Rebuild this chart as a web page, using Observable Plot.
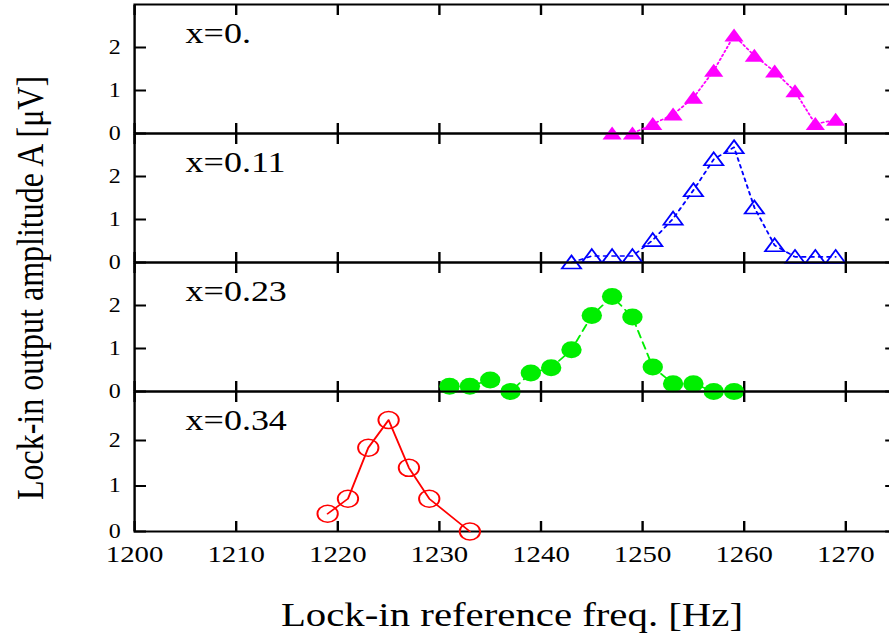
<!DOCTYPE html>
<html><head><meta charset="utf-8">
<script src="https://cdn.jsdelivr.net/npm/d3@7"></script>
<script src="https://cdn.jsdelivr.net/npm/@observablehq/plot@0.6"></script>
<style>
html,body{margin:0;padding:0;overflow:hidden;background:#fff;width:889px;height:637px;}
#stage{position:absolute;left:0;top:0;width:750px;height:637px;transform-origin:0 0;transform:scaleX(1.2);}
.panel{position:absolute;left:0;}
.title{position:absolute;font-family:"Liberation Serif",serif;color:#000;white-space:nowrap;line-height:1;}
</style></head><body><div id="stage"></div>
<script>
// ---- data ----
const xTicks = [1200, 1210, 1220, 1230, 1240, 1250, 1260, 1270];
const yTicks = [0, 1, 2];
const panelLabels = ["x=0.", "x=0.11", "x=0.23", "x=0.34"];

const freqX000 = [1247, 1249, 1251, 1253, 1255, 1257, 1259, 1261, 1263, 1265, 1267, 1269];
const ampX000  = [0.0, 0.0, 0.22, 0.44, 0.83, 1.46, 2.28, 1.81, 1.44, 0.98, 0.22, 0.32];

const freqX011 = [1243, 1245, 1247, 1249, 1251, 1253, 1255, 1257, 1259, 1261, 1263, 1265, 1267, 1269];
const ampX011  = [0.0, 0.15, 0.15, 0.15, 0.52, 1.02, 1.68, 2.4, 2.68, 1.28, 0.4, 0.13, 0.13, 0.13];

const freqX023 = [1231, 1233, 1235, 1237, 1239, 1241, 1243, 1245, 1247, 1249, 1251, 1253, 1255, 1257, 1259];
const ampX023  = [0.12, 0.12, 0.27, 0.0, 0.43, 0.55, 0.97, 1.77, 2.21, 1.73, 0.57, 0.18, 0.18, 0.0, 0.0];

const freqX034 = [1219, 1221, 1223, 1225, 1227, 1229, 1233];
const ampX034  = [0.39, 0.72, 1.84, 2.45, 1.4, 0.72, 0.0];

// ---- layout ----
const S = 1.2;          // horizontal stretch of the reference
const W = 750;
const leftEdge = 134 / S, rightEdge = 896 / S;
const bounds = [4, 133, 262, 391, 531];

const triangle = {draw(ctx) { ctx.moveTo(0, -7); ctx.lineTo(8, 6); ctx.lineTo(-8, 6); ctx.closePath(); }};

const panels = [
  {label: panelLabels[0], f: freqX000, a: ampX000, color: "#ff00ff", dash: "1.8,2.6", symbol: triangle, filled: true, ymax: 3},
  {label: panelLabels[1], f: freqX011, a: ampX011, color: "#0000ff", dash: "3,4", symbol: triangle, filled: false, ymax: 3},
  {label: panelLabels[2], f: freqX023, a: ampX023, color: "#00ee00", dash: "7,5", symbol: "circle", filled: true, ymax: 3},
  {label: panelLabels[3], f: freqX034, a: ampX034, color: "#ff0000", dash: null, symbol: "circle", filled: false, ymax: 140 / 45.5}
];

const stage = document.getElementById("stage");
panels.forEach((p, i) => {
  const top = bounds[i], bottom = bounds[i + 1];
  const isLast = i === panels.length - 1;
  const padT = 12, padB = isLast ? 60 : 12;
  const data = p.f.map((f, j) => ({f, a: p.a[j]}));
  const axisOpts = {tickSize: -10, tickFormat: () => "", label: null, strokeWidth: 2, stroke: "black"};
  const svg = Plot.plot({
    width: W, height: (bottom - top) + padT + padB,
    marginLeft: leftEdge, marginRight: W - rightEdge, marginTop: padT, marginBottom: padB,
    x: {domain: [1200, 1275]},
    y: {domain: [0, p.ymax]},
    style: {fontFamily: "'Liberation Serif', serif", background: "transparent", overflow: "visible", maxWidth: "none", color: "black"},
    marks: [
      Plot.frame({stroke: "black", strokeWidth: 2}),
      Plot.axisX(xTicks, {anchor: "bottom", ...axisOpts}),
      Plot.axisX(xTicks, {anchor: "top", ...axisOpts}),
      Plot.axisY(yTicks, {anchor: "left", ...axisOpts}),
      Plot.axisY(yTicks, {anchor: "right", ...axisOpts}),
      Plot.text(yTicks, {y: d => d, text: d => String(d), frameAnchor: "left", dx: -11.5, textAnchor: "end", fontSize: 20, fill: "black"}),
      isLast ? Plot.text(xTicks, {x: d => d, text: d => String(d), frameAnchor: "bottom", dy: 23, lineAnchor: "middle", fontSize: 24, fill: "black"}) : null,
      Plot.text([p.label], {text: d => d, frameAnchor: "top-left", dx: 42.5, dy: 29, lineAnchor: "middle", textAnchor: "start", fontSize: 30, fill: "black"}),
      Plot.line(data, {x: "f", y: "a", stroke: p.color, strokeWidth: 1.6, strokeDasharray: p.dash}),
      Plot.dot(data, {x: "f", y: "a", symbol: p.symbol, r: 8.5,
        fill: p.filled ? p.color : "none", stroke: p.filled ? "none" : p.color, strokeWidth: 1.6})
    ]
  });
  svg.classList.add("panel");
  svg.style.top = (top - padT) + "px";
  stage.appendChild(svg);
});

const xt = document.createElement("div");
xt.className = "title";
xt.textContent = "Lock-in reference freq. [Hz]";
xt.style.cssText += "left:" + (512 / S) + "px;top:615px;font-size:34px;transform:translate(-50%,-50%);";
stage.appendChild(xt);

const yt = document.createElement("div");
yt.className = "title";
yt.textContent = "Lock-in output amplitude A [μV]";
yt.style.cssText += "left:" + (30 / S) + "px;top:288px;font-size:32px;transform:translate(-50%,-50%) rotate(-90deg);";
stage.appendChild(yt);
</script>
</body></html>
